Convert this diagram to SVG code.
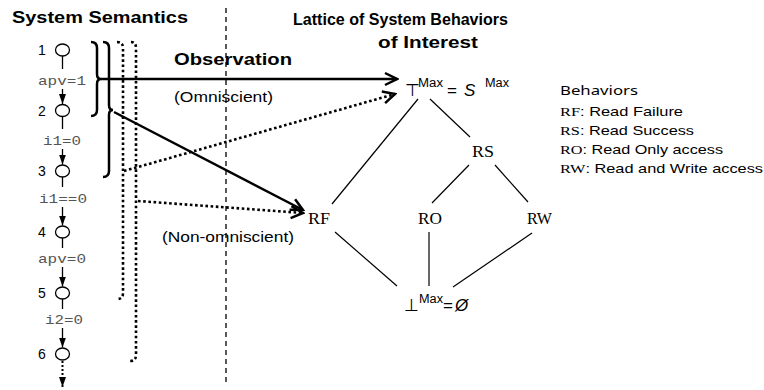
<svg xmlns="http://www.w3.org/2000/svg" width="764" height="390" viewBox="0 0 764 390">
<defs>
<style>
.h{font-family:"Liberation Sans",Arial,sans-serif;font-weight:bold;font-size:17px;fill:#000}
.s{font-family:"Liberation Sans",Arial,sans-serif;font-size:15px;fill:#000}
.n{font-family:"Liberation Sans",Arial,sans-serif;font-size:14px;fill:#000}
.m{font-family:"Liberation Mono","Courier New",monospace;font-size:13px;fill:#555}
.t{font-family:"Liberation Serif","Times New Roman",serif;font-size:17px;fill:#000}
.lg{font-family:"Liberation Sans",Arial,sans-serif;font-size:13px;fill:#000}
.lgt{font-family:"Liberation Serif","Times New Roman",serif}
.st{fill:#fff;stroke:#000;stroke-width:1.3}
.ln{stroke:#000;stroke-width:1.3;fill:none}
.lat{stroke:#000;stroke-width:1.2;fill:none}
.bold{stroke:#000;stroke-width:2.5;fill:none}
.dot{stroke:#000;stroke-width:2.6;fill:none;stroke-dasharray:2.6 2.6}
.dash{stroke:#000;stroke-width:1.3;fill:none;stroke-dasharray:5 4}
</style>
<marker id="chev" markerUnits="userSpaceOnUse" markerWidth="16" markerHeight="16" viewBox="0 0 16 16" refX="14" refY="8" orient="auto">
<path d="M2,2 L14,8 L2,14" fill="none" stroke="#000" stroke-width="2.5"/>
</marker>
<marker id="tri" markerUnits="userSpaceOnUse" markerWidth="10" markerHeight="8" viewBox="0 0 10 8" refX="10" refY="4" orient="auto">
<path d="M0,0.5 L10,4 L0,7.5 z" fill="#000"/>
</marker>
</defs>

<g id="titles">
<text class="h" x="12" y="23" textLength="176" lengthAdjust="spacingAndGlyphs">System Semantics</text>
<text class="h" x="293" y="25" textLength="215" lengthAdjust="spacingAndGlyphs">Lattice of System Behaviors</text>
<text class="h" x="378" y="48" textLength="100" lengthAdjust="spacingAndGlyphs">of Interest</text>
<text class="h" x="174" y="65" textLength="118" lengthAdjust="spacingAndGlyphs">Observation</text>
<text class="s" x="174" y="102" textLength="99" lengthAdjust="spacingAndGlyphs">(Omniscient)</text>
<text class="s" x="162" y="242" textLength="132" lengthAdjust="spacingAndGlyphs">(Non-omniscient)</text>
</g>

<line id="divider" class="dash" x1="226" y1="8" x2="226" y2="386"/>

<g id="states">
<g id="s1"><ellipse class="st" cx="62.5" cy="50" rx="7" ry="6"/><text class="n" x="42" y="55" text-anchor="middle">1</text></g>
<g id="s2"><ellipse class="st" cx="62.5" cy="110.5" rx="7" ry="6"/><text class="n" x="42" y="115.5" text-anchor="middle">2</text></g>
<g id="s3"><ellipse class="st" cx="62.5" cy="171" rx="7" ry="6"/><text class="n" x="42" y="176" text-anchor="middle">3</text></g>
<g id="s4"><ellipse class="st" cx="62.5" cy="232" rx="7" ry="6"/><text class="n" x="42" y="237" text-anchor="middle">4</text></g>
<g id="s5"><ellipse class="st" cx="62.5" cy="293" rx="7" ry="6"/><text class="n" x="42" y="298" text-anchor="middle">5</text></g>
<g id="s6"><ellipse class="st" cx="62.5" cy="354" rx="7" ry="6"/><text class="n" x="42" y="359" text-anchor="middle">6</text></g>
</g>

<g id="transitions">
<line class="ln" x1="62.5" y1="56" x2="62.5" y2="69"/>
<text class="m" x="62" y="85" text-anchor="middle" textLength="48" lengthAdjust="spacingAndGlyphs">apv=1</text>
<line class="ln" x1="62.5" y1="89" x2="62.5" y2="104" marker-end="url(#tri)"/>
<line class="ln" x1="62.5" y1="116.5" x2="62.5" y2="129"/>
<text class="m" x="62" y="145" text-anchor="middle" textLength="38" lengthAdjust="spacingAndGlyphs">i1=0</text>
<line class="ln" x1="62.5" y1="149" x2="62.5" y2="164.5" marker-end="url(#tri)"/>
<line class="ln" x1="62.5" y1="177" x2="62.5" y2="187"/>
<text class="m" x="63" y="203" text-anchor="middle" textLength="48" lengthAdjust="spacingAndGlyphs">i1==0</text>
<line class="ln" x1="62.5" y1="207" x2="62.5" y2="225.5" marker-end="url(#tri)"/>
<line class="ln" x1="62.5" y1="238" x2="62.5" y2="248"/>
<text class="m" x="62" y="263" text-anchor="middle" textLength="48" lengthAdjust="spacingAndGlyphs">apv=0</text>
<line class="ln" x1="62.5" y1="267" x2="62.5" y2="286.5" marker-end="url(#tri)"/>
<line class="ln" x1="62.5" y1="299" x2="62.5" y2="309"/>
<text class="m" x="64" y="324" text-anchor="middle" textLength="38" lengthAdjust="spacingAndGlyphs">i2=0</text>
<line class="ln" x1="62.5" y1="328" x2="62.5" y2="347.5" marker-end="url(#tri)"/>
<line class="dot" style="stroke-width:2;stroke-dasharray:2 2" x1="62.5" y1="361" x2="62.5" y2="387" marker-end="url(#tri)"/>
</g>

<g id="observations">
<path class="bold" d="M91,42 Q97,42 97,48 L97,74 Q97,79 101,79 Q97,79 97,84 L97,110 Q97,116 91,116"/>
<path class="bold" d="M103,42 Q109,42 109,48 L109,105 Q109,110 113,110 Q109,110 109,115 L109,171 Q109,177 103,177"/>
<path class="dot" d="M117,42 Q123,42 123,48 L123,293 Q123,299 117,299"/>
<path class="dot" d="M131,42 Q136,42 136,48 L136,355 Q136,361 130,361"/>
</g>

<g id="connectors">
<line class="bold" x1="101" y1="79" x2="397" y2="79" marker-end="url(#chev)"/>
<line class="bold" x1="114" y1="112" x2="303" y2="210" marker-end="url(#chev)"/>
<line class="dot" x1="124" y1="171" x2="395" y2="94" marker-end="url(#chev)"/>
<line class="dot" x1="138" y1="201" x2="303" y2="213" marker-end="url(#chev)"/>
<line class="lat" x1="418" y1="99" x2="332" y2="204"/>
<line class="lat" x1="430" y1="99" x2="470" y2="137"/>
<line class="lat" x1="469" y1="165" x2="432" y2="203"/>
<line class="lat" x1="495" y1="165" x2="528" y2="202"/>
<line class="lat" x1="335" y1="232" x2="397" y2="286"/>
<line class="lat" x1="429" y1="232" x2="429" y2="286"/>
<line class="lat" x1="532" y1="233" x2="453" y2="287"/>
</g>

<g id="top">
<text class="s" x="405" y="96" style="font-size:17px">⊤</text>
<text class="s" x="418" y="87" style="font-size:12.5px" textLength="25" lengthAdjust="spacingAndGlyphs">Max</text>
<text class="s" x="447" y="96" style="font-size:17px">=</text>
<text class="s" x="464" y="96" style="font-size:17px;font-style:italic">S</text>
<text class="s" x="485" y="87" style="font-size:12.5px" textLength="24" lengthAdjust="spacingAndGlyphs">Max</text>
</g>
<g id="RS"><text class="t" x="472" y="157" textLength="22" lengthAdjust="spacingAndGlyphs">RS</text></g>
<g id="RF"><text class="t" x="308" y="224" textLength="22" lengthAdjust="spacingAndGlyphs">RF</text></g>
<g id="RO"><text class="t" x="418" y="224" textLength="24" lengthAdjust="spacingAndGlyphs">RO</text></g>
<g id="RW"><text class="t" x="527" y="224" textLength="25" lengthAdjust="spacingAndGlyphs">RW</text></g>
<g id="bottom">
<text class="s" x="404" y="311" style="font-size:17px">⊥</text>
<text class="s" x="419" y="303" style="font-size:12.5px" textLength="24" lengthAdjust="spacingAndGlyphs">Max</text>
<text class="s" x="443" y="311" style="font-size:17px">=</text>
<text class="s" x="455" y="311" style="font-size:17px;font-style:italic">Ø</text>
</g>

<g id="legend">
<text class="lg" x="560" y="95" style="font-family:'Noto Sans',sans-serif" textLength="78" lengthAdjust="spacingAndGlyphs">Behaviors</text>
<text class="lg" x="560" y="116" textLength="123" lengthAdjust="spacingAndGlyphs"><tspan class="lgt">RF</tspan>: Read Failure</text>
<text class="lg" x="560" y="135" textLength="134" lengthAdjust="spacingAndGlyphs"><tspan class="lgt">RS</tspan>: Read Success</text>
<text class="lg" x="560" y="154" textLength="163" lengthAdjust="spacingAndGlyphs"><tspan class="lgt">RO</tspan>: Read Only access</text>
<text class="lg" x="560" y="173" textLength="203" lengthAdjust="spacingAndGlyphs"><tspan class="lgt">RW</tspan>: Read and Write access</text>
</g>
</svg>
